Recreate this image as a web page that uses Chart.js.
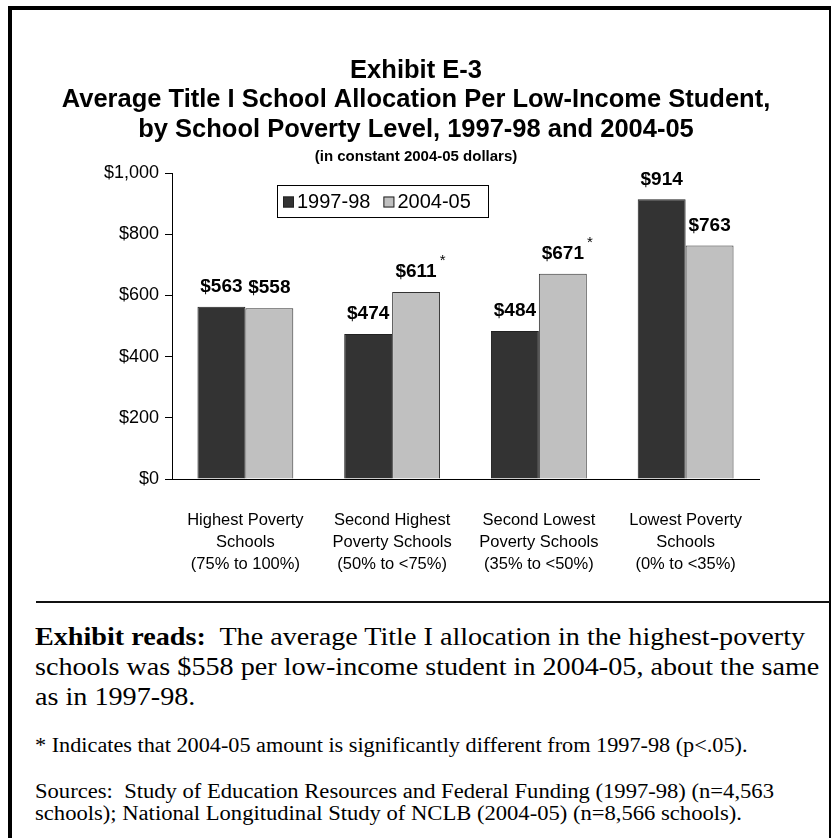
<!DOCTYPE html>
<html>
<head>
<meta charset="utf-8">
<script src="https://cdn.jsdelivr.net/npm/chart.js@4.4.1/dist/chart.umd.min.js"></script>
<style>
  html, body { margin:0; padding:0; width:832px; height:838px; overflow:hidden; background:#fff; }
  #frame { position:absolute; left:8px; top:6px; width:823px; height:900px; box-sizing:border-box;
           border-left:4px solid #000; border-top:4px solid #000; border-right:2px solid #000; }
  #wrap { position:absolute; left:0; top:0; width:832px; height:590px; }
  #rule { position:absolute; left:36px; top:601px; width:794px; height:2px; background:#111; }
  .note { position:absolute; left:35px; font-family:"Liberation Serif","Times New Roman",serif; color:#000;
          white-space:nowrap; transform-origin:0 0; }
  #reads { top:622px; font-size:26px; line-height:30px; transform:scaleX(1.083); }
  #star { top:734px; font-size:20px; line-height:22px; transform:scaleX(1.112); }
  #src { top:780px; font-size:20px; line-height:22px; transform:scaleX(1.13); }
</style>
</head>
<body>
<div id="frame"></div>
<div id="wrap"><canvas id="c"></canvas></div>
<div id="rule"></div>
<div class="note" id="reads"><b>Exhibit reads:</b>&nbsp; The average Title I allocation in the highest-poverty<br>schools was $558 per low-income student in 2004-05, about the same<br>as in 1997-98.</div>
<div class="note" id="star">* Indicates that 2004-05 amount is significantly different from 1997-98 (p&lt;.05).</div>
<div class="note" id="src">Sources:&nbsp; Study of Education Resources and Federal Funding (1997-98) (n=4,563<br>schools); National Longitudinal Study of NCLB (2004-05) (n=8,566 schools).</div>
<script>
const categories = [
  ["Highest Poverty", "Schools", "(75% to 100%)"],
  ["Second Highest", "Poverty Schools", "(50% to <75%)"],
  ["Second Lowest", "Poverty Schools", "(35% to <50%)"],
  ["Lowest Poverty", "Schools", "(0% to <35%)"]
];
const seriesNames = ["1997-98", "2004-05"];
const values1997 = [563, 474, 484, 914];
const values2004 = [558, 611, 671, 763];
const significant2004 = [false, true, true, false];
const yTickValues = [0, 200, 400, 600, 800, 1000];
const titleLines = ["Exhibit E-3", "Average Title I School Allocation Per Low-Income Student,", "by School Poverty Level, 1997-98 and 2004-05"];
const subtitleText = "(in constant 2004-05 dollars)";

const SANS = "'Liberation Sans', Arial, sans-serif";
const fmt = v => "$" + v.toLocaleString("en-US");

const valueLabels = {
  id: "valueLabels",
  afterDatasetsDraw(chart) {
    const ctx = chart.ctx;
    ctx.save();
    ctx.fillStyle = "#000";
    ctx.textAlign = "center";
    ctx.textBaseline = "middle";
    chart.data.datasets.forEach((ds, di) => {
      const meta = chart.getDatasetMeta(di);
      meta.data.forEach((bar, i) => {
        ctx.font = "bold 19px " + SANS;
        const txt = fmt(ds.data[i]);
        const y = bar.y - 20;
        ctx.fillText(txt, bar.x, y);
        if (ds.sig && ds.sig[i]) {
          const w = ctx.measureText(txt).width;
          ctx.font = "15px " + SANS;
          ctx.fillText("*", bar.x + w / 2 + 6, y - 11);
        }
      });
    });
    ctx.restore();
  }
};

const boxLegend = {
  id: "boxLegend",
  afterDraw(chart) {
    const ctx = chart.ctx;
    const a = chart.chartArea;
    const x0 = a.left + 105, y0 = a.top + 12, w = 211, h = 32;
    ctx.save();
    ctx.strokeStyle = "#000";
    ctx.lineWidth = 1;
    ctx.strokeRect(x0 + 0.5, y0 + 0.5, w, h);
    ctx.font = "20px " + SANS;
    ctx.textBaseline = "middle";
    ctx.textAlign = "left";
    let x = x0 + 6;
    const cy = y0 + h / 2 + 1;
    chart.data.datasets.forEach(ds => {
      ctx.fillStyle = ds.backgroundColor;
      ctx.fillRect(x, cy - 5.5, 11, 11);
      ctx.strokeStyle = "#222";
      ctx.strokeRect(x + 0.5, cy - 5.5 + 0.5, 10, 10);
      ctx.fillStyle = "#000";
      ctx.fillText(ds.label, x + 14, cy);
      x += 14 + ctx.measureText(ds.label).width + 13;
    });
    ctx.restore();
  }
};

new Chart(document.getElementById("c"), {
  type: "bar",
  data: {
    labels: categories,
    datasets: [
      { label: seriesNames[0], data: values1997, backgroundColor: "#333333", borderColor: "#222222", borderWidth: 1,
        categoryPercentage: 0.653, barPercentage: 1.0 },
      { label: seriesNames[1], data: values2004, sig: significant2004, backgroundColor: "#c0c0c0", borderColor: "#333333", borderWidth: 1,
        categoryPercentage: 0.653, barPercentage: 1.0 }
    ]
  },
  options: {
    responsive: true,
    maintainAspectRatio: false,
    animation: false,
    layout: { autoPadding: false, padding: { left: 0, right: 0, top: 56, bottom: 0 } },
    plugins: {
      legend: { display: false },
      tooltip: { enabled: false },
      title: { display: true, text: titleLines, color: "#000",
               font: { family: SANS, size: 25.5, weight: "bold", lineHeight: 1.157 },
               padding: { top: 0, bottom: 3 } },
      subtitle: { display: true, text: subtitleText, color: "#000",
                  font: { family: SANS, size: 15, weight: "bold", lineHeight: 1.2 },
                  padding: { top: 0, bottom: 7.5 } }
    },
    scales: {
      x: {
        grid: { display: true, drawOnChartArea: false, drawTicks: false },
        border: { display: true, color: "#000", width: 1 },
        ticks: { color: "#000", font: { family: SANS, size: 16.5, lineHeight: 1.333 }, padding: 30, maxRotation: 0, autoSkip: false },
        afterFit: s => { s.height = 111; }
      },
      y: {
        min: 0, max: 1000,
        afterBuildTicks: s => { s.ticks = yTickValues.map(v => ({ value: v })); },
        grid: { display: true, drawOnChartArea: false, drawTicks: true, tickLength: 7, color: "#000" },
        border: { display: true, color: "#000", width: 1 },
        ticks: { color: "#000", font: { family: SANS, size: 18 }, padding: 6, callback: v => fmt(v) },
        afterFit: s => { s.width = 172; }
      },
      yRightSpace: {
        type: "linear", position: "right", display: true,
        grid: { display: false }, border: { display: false }, ticks: { display: false },
        afterFit: s => { s.width = 73; }
      }
    }
  },
  plugins: [valueLabels, boxLegend]
});
</script>
</body>
</html>
